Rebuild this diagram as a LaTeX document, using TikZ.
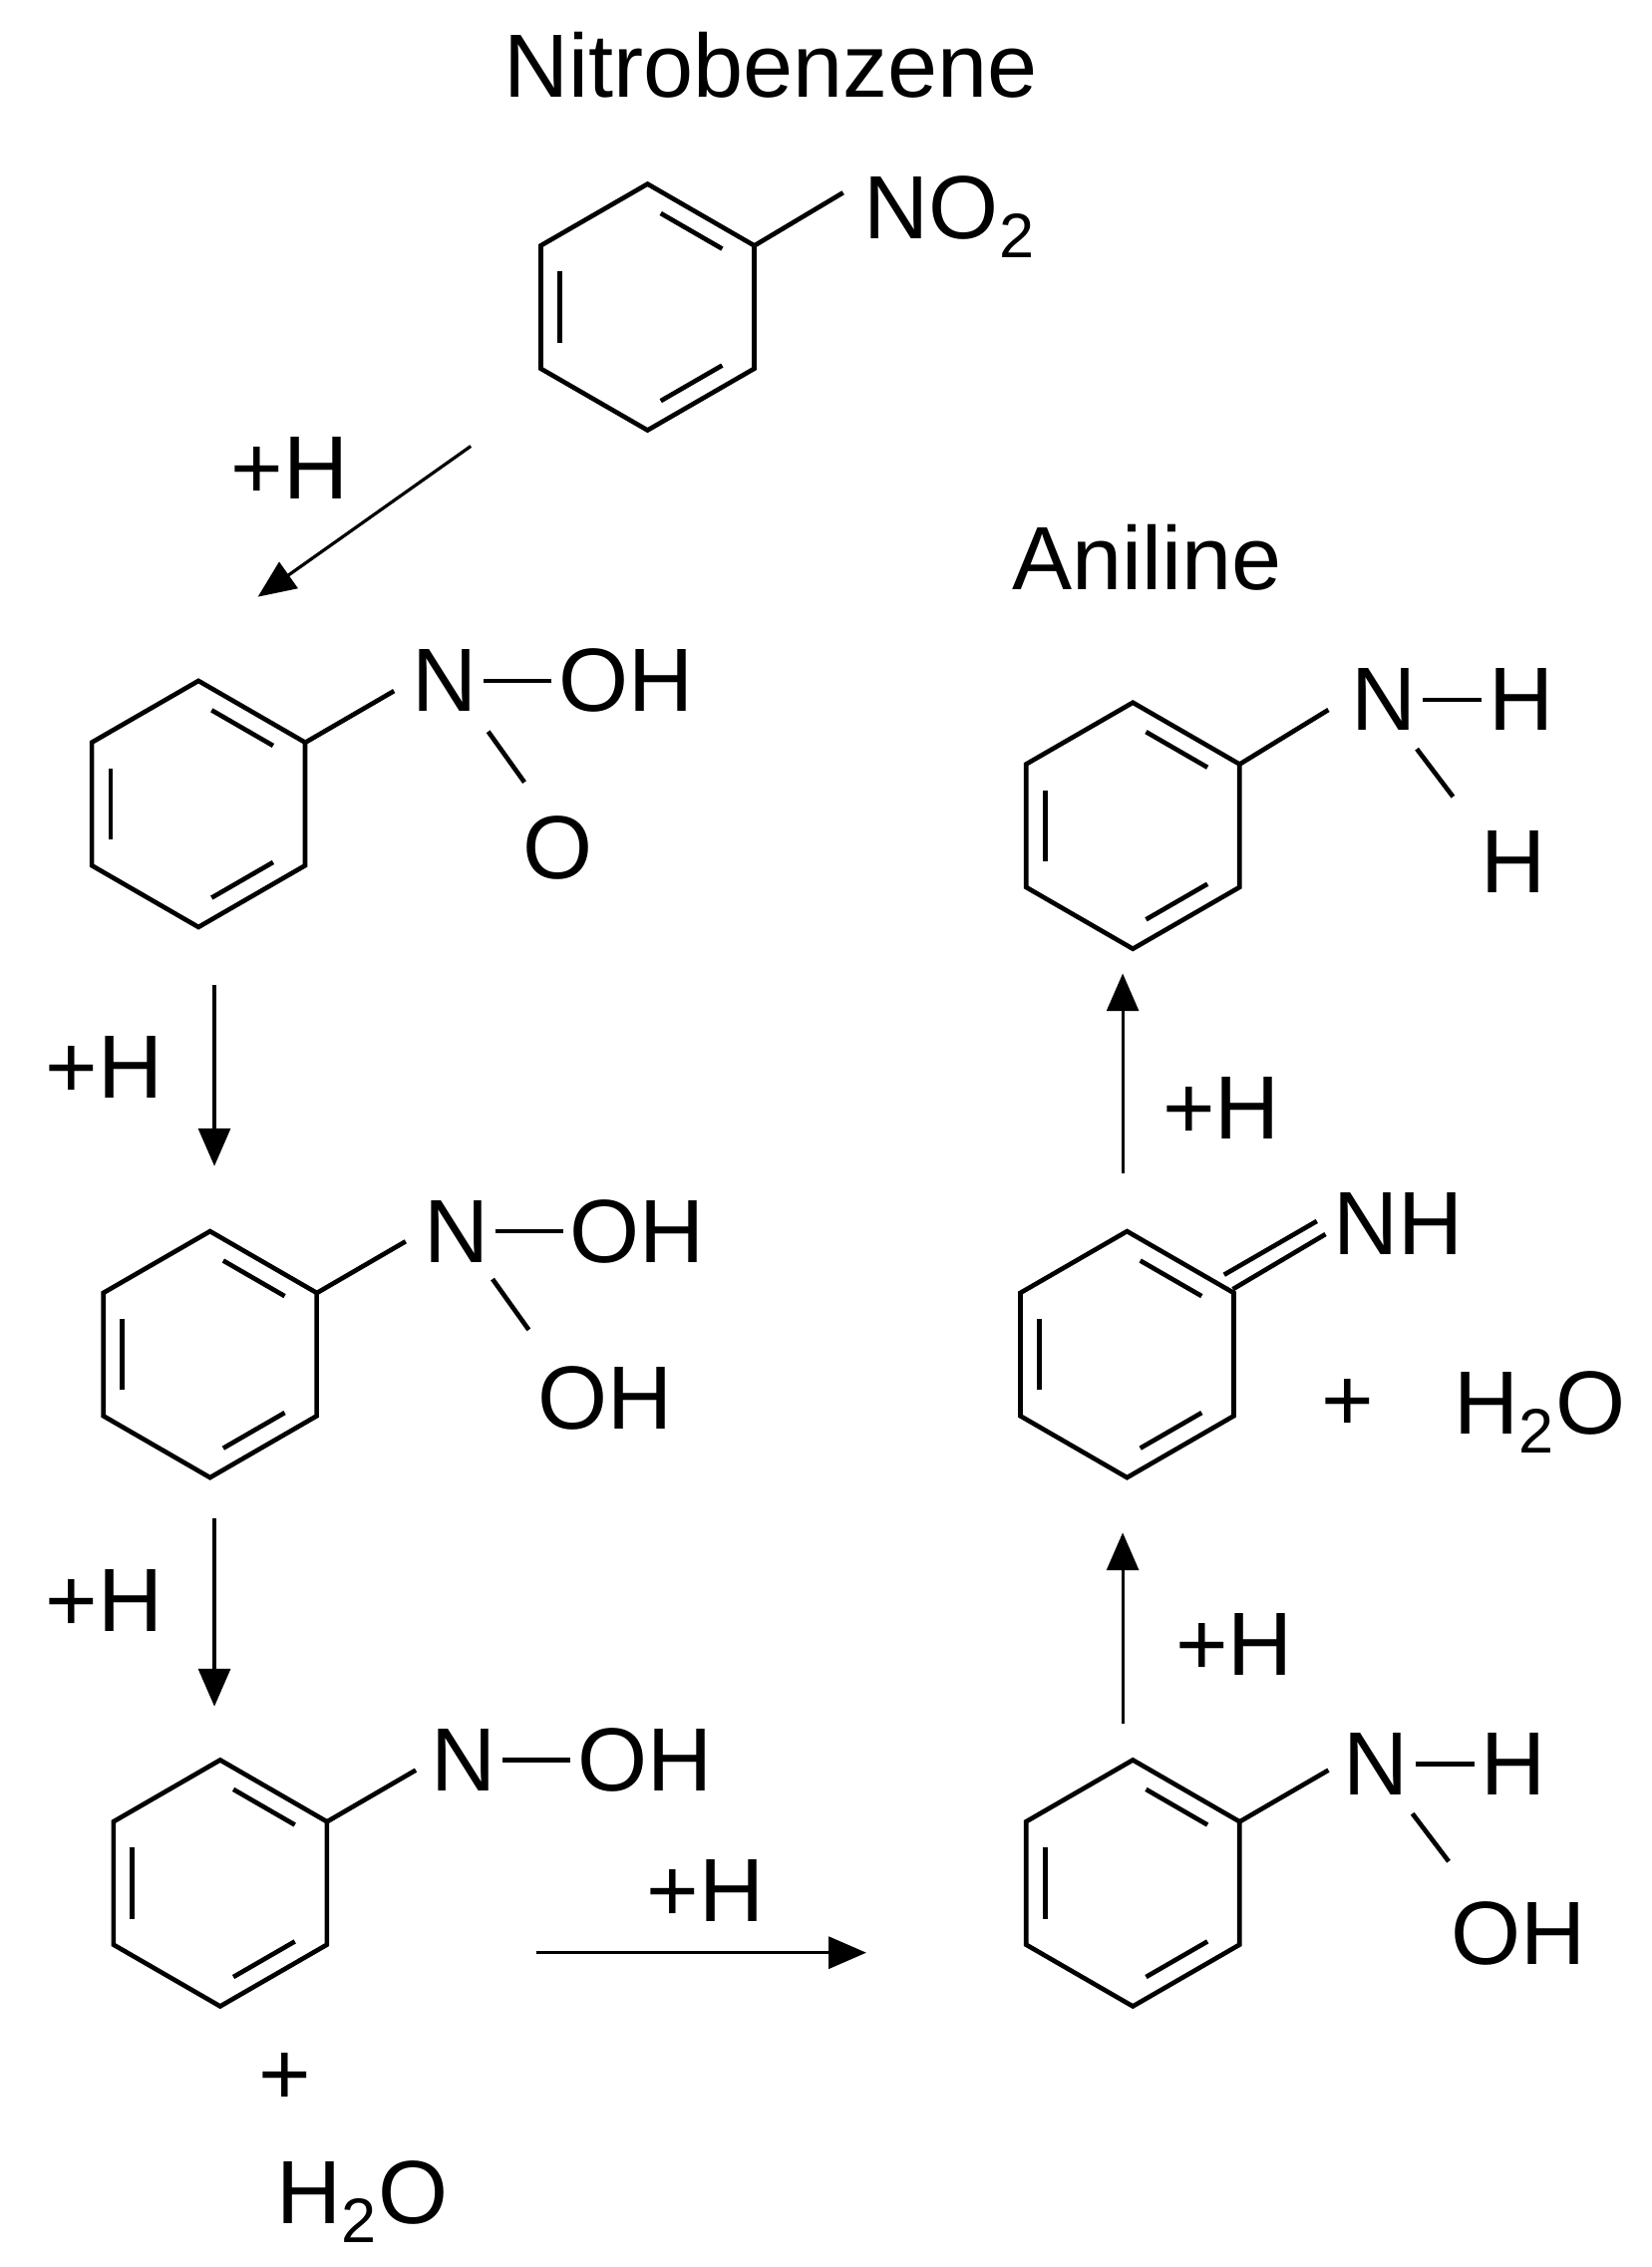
\documentclass[tikz,border=0pt]{standalone}
\usepackage{fontspec}
\setmainfont{Liberation Sans}
\usetikzlibrary{arrows.meta,calc}
\begin{document}
\begin{tikzpicture}[x=0.5pt,y=-0.5pt,line width=1.6pt,
  lbl/.style={font=\fontsize{31}{36}\selectfont,inner sep=0pt},
  rxn/.style={-{Triangle[length=13pt,width=11pt]},line width=1.1pt},
  pics/benz/.style={code={
    \draw (90:85) -- (30:85) -- (-30:85) -- (-90:85) -- (-150:85) -- (150:85) -- cycle;
    \foreach \a/\b in {150/210,90/30,-30/-90}{
      \draw ($(\a:70)!0.15!(\b:70)$) -- ($(\a:70)!0.85!(\b:70)$);}
  }}]
\useasboundingbox (0,0) rectangle (1140,1565);
\node[lbl] (t1) at (532,45) {Nitrobenzene};
\node[lbl] (t2) at (792,385) {Aniline};
% ring 1
\pic at (447,212) {benz};
\coordinate (r1) at (520,170);
\node[lbl,anchor=west] (no2) at (595,150) {NO\textsubscript{2}};
\draw (r1) -- (582,133);
% ring 2
\pic at (137,555) {benz};
\node[lbl] (n2) at (307,470) {N};
\node[lbl] (oh2) at (432,470) {OH};
\node[lbl] (o2) at (385,585) {O};
\draw (210,513) -- (272,477);
\draw (n2.east)+(3,0) coordinate (a) (oh2.west)+(-3,0) coordinate (b); \draw (a) -- (b);
\draw (337,505) -- (362,540);
% ring 3
\pic at (145,935) {benz};
\node[lbl] (n3) at (315,850) {N};
\node[lbl] (oh3) at (440,850) {OH};
\node[lbl] (oh3b) at (418,965) {OH};
\draw (218,893) -- (280,857);
\draw (n3.east)+(3,0) coordinate (a) (oh3.west)+(-3,0) coordinate (b); \draw (a) -- (b);
\draw (340,883) -- (365,918);
% ring 4
\pic at (152,1300) {benz};
\node[lbl] (n4) at (320,1215) {N};
\node[lbl] (oh4) at (445,1215) {OH};
\draw (225,1258) -- (287,1222);
\draw (n4.east)+(3,0) coordinate (a) (oh4.west)+(-3,0) coordinate (b); \draw (a) -- (b);
\node[lbl] (p1) at (197,1435) {+};
\node[lbl] (w1) at (250,1520) {H\textsubscript{2}O};
% ring 5
\pic at (782,1300) {benz};
\node[lbl] (n5) at (950,1218) {N};
\node[lbl] (h5) at (1045,1218) {H};
\node[lbl] (oh5) at (1048,1335) {OH};
\draw (855,1258) -- (917,1222);
\draw (n5.east)+(3,0) coordinate (a) (h5.west)+(-3,0) coordinate (b); \draw (a) -- (b);
\draw (975,1252) -- (1000,1285);
% ring 6
\pic at (778,935) {benz};
\node[lbl] (nh6) at (965,845) {NH};
\draw (851,890) -- (915,852);
\draw (845,880) -- (909,843);
\node[lbl] (p6) at (930,970) {+};
\node[lbl] (w6) at (1063,975) {H\textsubscript{2}O};
% ring 7
\pic at (782,570) {benz};
\node[lbl] (n7) at (955,483) {N};
\node[lbl] (h7) at (1050,483) {H};
\node[lbl] (h7b) at (1045,595) {H};
\draw (855,528) -- (917,490);
\draw (n7.east)+(3,0) coordinate (a) (h7.west)+(-3,0) coordinate (b); \draw (a) -- (b);
\draw (978,517) -- (1003,550);
% arrows
\coordinate (a1s) at (325,308); \coordinate (a1e) at (178,412);
\draw[rxn] (a1s) -- (a1e); \node[lbl] (l1) at (200,323) {+H};
\coordinate (a2s) at (148,680); \coordinate (a2e) at (148,805);
\draw[rxn] (a2s) -- (a2e); \node[lbl] (l2) at (72,737) {+H};
\coordinate (a3s) at (148,1048); \coordinate (a3e) at (148,1178);
\draw[rxn] (a3s) -- (a3e); \node[lbl] (l3) at (72,1105) {+H};
\coordinate (a4s) at (370,1348); \coordinate (a4e) at (598,1348);
\draw[rxn] (a4s) -- (a4e); \node[lbl] (l4) at (487,1305) {+H};
\coordinate (a5s) at (775,1190); \coordinate (a5e) at (775,1058);
\draw[rxn] (a5s) -- (a5e); \node[lbl] (l5) at (852,1135) {+H};
\coordinate (a6s) at (775,810); \coordinate (a6e) at (775,672);
\draw[rxn] (a6s) -- (a6e); \node[lbl] (l6) at (843,765) {+H};
\end{tikzpicture}
\end{document}
